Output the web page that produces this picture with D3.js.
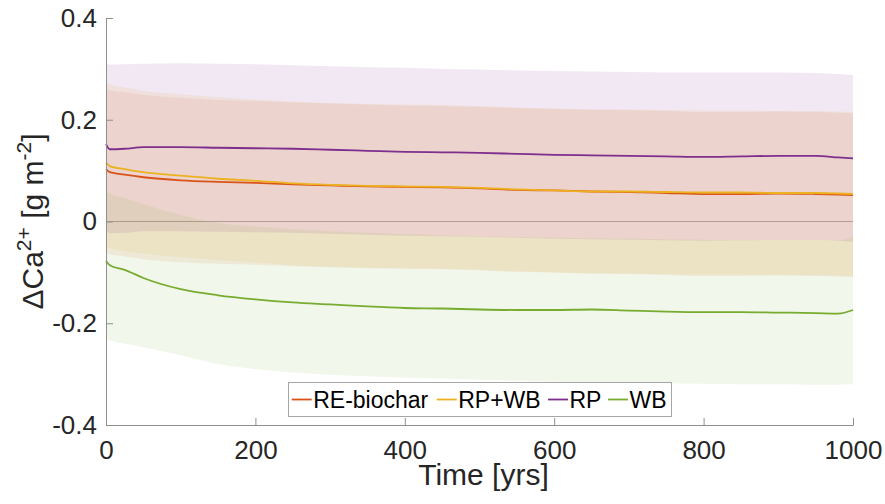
<!DOCTYPE html>
<html>
<head>
<meta charset="utf-8">
<script src="https://cdn.jsdelivr.net/npm/d3@7/dist/d3.min.js"></script>
<style>
  html, body { margin: 0; padding: 0; background: #fff; }
  svg { display: block; font-family: "Liberation Sans", Arial, sans-serif; }
</style>
</head>
<body>
<svg id="chart" width="885" height="504"></svg>
<script>
// Time axis (years)
const years = [0, 5, 25, 50, 100, 150, 200, 250, 300, 350, 400, 450, 500, 550, 600, 650, 700, 750, 800, 850, 900, 950, 980, 1000];

// RE-biochar: mean and spread bounds (g m^-2)
const reMean  = [0.103, 0.097, 0.092, 0.087, 0.081, 0.078, 0.076, 0.073, 0.071, 0.069, 0.068, 0.067, 0.065, 0.062, 0.061, 0.059, 0.058, 0.056, 0.054, 0.054, 0.055, 0.054, 0.053, 0.052];
const reUpper = [0.262, 0.258, 0.254, 0.249, 0.243, 0.239, 0.237, 0.234, 0.232, 0.230, 0.228, 0.227, 0.225, 0.223, 0.221, 0.220, 0.219, 0.217, 0.215, 0.215, 0.216, 0.215, 0.214, 0.213];
const reLower = [-0.060, -0.064, -0.069, -0.074, -0.080, -0.083, -0.085, -0.088, -0.090, -0.092, -0.093, -0.094, -0.096, -0.099, -0.100, -0.102, -0.103, -0.105, -0.107, -0.107, -0.106, -0.107, -0.108, -0.109];

// RP+WB
const rpwbMean  = [0.116, 0.109, 0.103, 0.097, 0.090, 0.084, 0.080, 0.075, 0.072, 0.070, 0.069, 0.068, 0.066, 0.063, 0.061, 0.059, 0.059, 0.058, 0.057, 0.057, 0.056, 0.056, 0.055, 0.054];
const rpwbUpper = [0.276, 0.270, 0.264, 0.257, 0.250, 0.244, 0.240, 0.236, 0.233, 0.231, 0.230, 0.229, 0.227, 0.224, 0.222, 0.220, 0.220, 0.219, 0.218, 0.218, 0.217, 0.217, 0.216, 0.215];
const rpwbLower = [-0.050, -0.052, -0.058, -0.063, -0.070, -0.076, -0.080, -0.086, -0.089, -0.091, -0.092, -0.093, -0.095, -0.098, -0.100, -0.102, -0.102, -0.103, -0.104, -0.104, -0.105, -0.105, -0.106, -0.107];

// RP
const rpMean  = [0.152, 0.142, 0.143, 0.146, 0.146, 0.145, 0.144, 0.143, 0.141, 0.139, 0.137, 0.136, 0.135, 0.133, 0.131, 0.130, 0.129, 0.128, 0.127, 0.128, 0.129, 0.129, 0.126, 0.124];
const rpUpper = [0.313, 0.308, 0.309, 0.310, 0.311, 0.310, 0.309, 0.307, 0.305, 0.303, 0.302, 0.300, 0.299, 0.297, 0.296, 0.295, 0.294, 0.293, 0.293, 0.293, 0.293, 0.292, 0.290, 0.288];
const rpLower = [-0.015, -0.023, -0.022, -0.019, -0.019, -0.020, -0.021, -0.022, -0.024, -0.026, -0.028, -0.029, -0.030, -0.032, -0.034, -0.035, -0.036, -0.037, -0.038, -0.037, -0.036, -0.036, -0.038, -0.040];

// WB
const wbMean  = [-0.077, -0.086, -0.095, -0.111, -0.133, -0.145, -0.153, -0.159, -0.163, -0.167, -0.170, -0.171, -0.173, -0.174, -0.174, -0.173, -0.175, -0.177, -0.178, -0.178, -0.179, -0.180, -0.181, -0.174];
const wbUpper = [0.059, 0.055, 0.046, 0.034, 0.013, -0.003, -0.010, -0.015, -0.019, -0.022, -0.025, -0.027, -0.029, -0.031, -0.032, -0.033, -0.034, -0.035, -0.036, -0.036, -0.036, -0.036, -0.037, -0.030];
const wbLower = [-0.231, -0.234, -0.240, -0.247, -0.263, -0.280, -0.290, -0.297, -0.301, -0.304, -0.307, -0.309, -0.311, -0.313, -0.315, -0.316, -0.317, -0.318, -0.319, -0.320, -0.320, -0.321, -0.321, -0.320];

const seriesNames  = ["RE-biochar", "RP+WB", "RP", "WB"];
const seriesColors = ["#D95319", "#EDB120", "#7E2F8E", "#77AC30"];

const xTicks = [0, 200, 400, 600, 800, 1000];
const yTicks = [-0.4, -0.2, 0, 0.2, 0.4];
const yTickLabels = ["-0.4", "-0.2", "0", "0.2", "0.4"];

const bandOpacity = [0.09, 0.10, 0.11, 0.10];

const series = [
  { name: seriesNames[0], color: seriesColors[0], mean: reMean,   upper: reUpper,   lower: reLower },
  { name: seriesNames[1], color: seriesColors[1], mean: rpwbMean, upper: rpwbUpper, lower: rpwbLower },
  { name: seriesNames[2], color: seriesColors[2], mean: rpMean,   upper: rpUpper,   lower: rpLower },
  { name: seriesNames[3], color: seriesColors[3], mean: wbMean,   upper: wbUpper,   lower: wbLower }
];

const svg = d3.select("#chart");
const plot = { left: 106, right: 853, top: 18, bottom: 425 };

const x = d3.scaleLinear().domain([0, 1000]).range([plot.left, plot.right]);
const y = d3.scaleLinear().domain([-0.4, 0.4]).range([plot.bottom, plot.top]);

const axisColor = "#8f8f8f";
const textColor = "#262626";

// zero reference line
svg.append("line")
  .attr("x1", x(0)).attr("x2", x(1000))
  .attr("y1", y(0)).attr("y2", y(0))
  .attr("stroke", "#b3b3b3").attr("stroke-width", 1);

// shaded spread bands
const area = d3.area()
  .x((d, i) => x(years[i]))
  .y0(d => y(d.lo))
  .y1(d => y(d.hi))
  .curve(d3.curveMonotoneX);

series.forEach((s, k) => {
  const pts = years.map((t, i) => ({ lo: s.lower[i], hi: s.upper[i] }));
  svg.append("path")
    .datum(pts)
    .attr("d", area)
    .attr("fill", s.color)
    .attr("fill-opacity", bandOpacity[k])
    .attr("stroke", "none");
});

// mean lines
const line = d3.line()
  .x((d, i) => x(years[i]))
  .y(d => y(d))
  .curve(d3.curveMonotoneX);

series.forEach(s => {
  svg.append("path")
    .datum(s.mean)
    .attr("d", line)
    .attr("fill", "none")
    .attr("stroke", s.color)
    .attr("stroke-width", 1.8)
    .attr("stroke-linejoin", "round");
});

// axes: inward ticks, no box
const xAxis = d3.axisBottom(x).tickValues(xTicks).tickSizeInner(-7).tickSizeOuter(0).tickPadding(16)
  .tickFormat(d3.format("d"));
const gx = svg.append("g").attr("transform", `translate(0,${plot.bottom})`).call(xAxis);

const yAxis = d3.axisLeft(y).tickValues(yTicks).tickSizeInner(-7).tickSizeOuter(0).tickPadding(9)
  .tickFormat((d, i) => yTickLabels[i]);
const gy = svg.append("g").attr("transform", `translate(${plot.left},0)`).call(yAxis);

[gx, gy].forEach(g => {
  g.select(".domain").attr("stroke", axisColor).attr("stroke-width", 1);
  g.selectAll(".tick line").attr("stroke", axisColor).attr("stroke-width", 1);
  g.selectAll(".tick text")
    .attr("fill", textColor)
    .style("font-family", '"Liberation Sans", Arial, sans-serif')
    .style("font-size", "26px");
});
gx.selectAll(".tick text").attr("dy", "0.71em");

// axis labels
svg.append("text")
  .attr("x", (plot.left + plot.right) / 2 + 4)
  .attr("y", 485)
  .attr("text-anchor", "middle")
  .attr("fill", textColor)
  .style("font-size", "30px")
  .text("Time [yrs]");

const yl = svg.append("text")
  .attr("transform", `translate(43,${(plot.top + plot.bottom) / 2}) rotate(-90)`)
  .attr("text-anchor", "middle")
  .attr("fill", textColor)
  .style("font-size", "30px");
yl.append("tspan").text("\u0394Ca");
yl.append("tspan").attr("dy", -12).style("font-size", "21px").text("2+");
yl.append("tspan").attr("dy", 12).text(" [g m");
yl.append("tspan").attr("dy", -12).style("font-size", "21px").text("-2");
yl.append("tspan").attr("dy", 12).text("]");

// legend
const legend = svg.append("g");
legend.append("rect")
  .attr("x", 288.5).attr("y", 382.5)
  .attr("width", 383).attr("height", 34)
  .attr("fill", "#fff").attr("stroke", "#a6a6a6").attr("stroke-width", 1);

const legendX = [291.7, 436.7, 548, 608];
series.forEach((s, i) => {
  legend.append("line")
    .attr("x1", legendX[i]).attr("x2", legendX[i] + 20)
    .attr("y1", 399.5).attr("y2", 399.5)
    .attr("stroke", s.color).attr("stroke-width", 1.8);
  legend.append("text")
    .attr("x", legendX[i] + 21.5).attr("y", 408)
    .attr("fill", "#000")
    .style("font-size", "23px")
    .text(s.name);
});
</script>
</body>
</html>
